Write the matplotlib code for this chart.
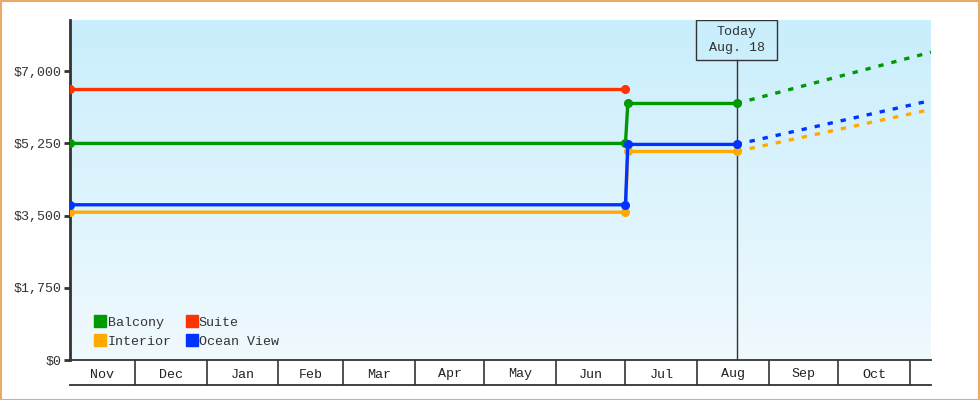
import matplotlib.pyplot as plt
import matplotlib.dates as mdates
import matplotlib.transforms as mtransforms
from matplotlib.lines import Line2D
from matplotlib.patches import Rectangle
from matplotlib.colors import LinearSegmentedColormap
import numpy as np
import datetime as dt

# price history points
dates = ['2024-11-03', '2025-07-01', '2025-07-02', '2025-08-18']
balcony = [5249, 5249, 6217, 6217]
interior = [3582, 3582, 5054, 5054]
ocean_view = [3762, 3762, 5225, 5225]
suite_dates = ['2024-11-03', '2025-07-01']
suite = [6565, 6565]

# projected prices at end of range
end_date = '2025-11-10'
balcony_proj = 7460
interior_proj = 6072
ocean_view_proj = 6290

today = '2025-08-18'
today_label = 'Today\nAug. 18'
month_starts = ['2024-12-01', '2025-01-01', '2025-02-01', '2025-03-01', '2025-04-01',
                '2025-05-01', '2025-06-01', '2025-07-01', '2025-08-01', '2025-09-01',
                '2025-10-01', '2025-11-01']
month_labels = ['Nov', 'Dec', 'Jan', 'Feb', 'Mar', 'Apr', 'May', 'Jun', 'Jul', 'Aug', 'Sep', 'Oct']

yticks = [0, 1750, 3500, 5250, 7000]

plt.rcParams['font.family'] = ['Liberation Mono', 'DejaVu Sans Mono']
dark = '#333333'
fs = 9.6

def d(s):
    return mdates.date2num(dt.datetime.strptime(s, '%Y-%m-%d'))

x = [d(s) for s in dates]
xs = [d(s) for s in suite_dates]
x0, x1 = d(dates[0]), d(end_date)
xt = d(today)

fig = plt.figure(figsize=(9.8, 4), dpi=100)
W, H = 980, 400
ax = fig.add_axes([70 / W, 1 - 360 / H, 861 / W, 340 / H])
ymax = 8240
ax.set_xlim(x0, x1)
ax.set_ylim(0, ymax)

# gradient background
grad = np.linspace(0, 1, 256).reshape(-1, 1)
cmap = LinearSegmentedColormap.from_list('bg', ['#f0f9fe', '#c9eefc'])
ax.imshow(grad, extent=[x0, x1, 0, ymax], origin='lower', aspect='auto', cmap=cmap, zorder=0)

colors = {'Balcony': '#009900', 'Suite': '#ff3300', 'Interior': '#ffaa00', 'Ocean View': '#0033ff'}
lw = 2.4
ms = 5.5

ax.plot(x, interior, color=colors['Interior'], lw=lw, marker='o', ms=ms, zorder=3)
ax.plot(x, balcony, color=colors['Balcony'], lw=lw, marker='o', ms=ms, zorder=3)
ax.plot(xs, suite, color=colors['Suite'], lw=lw, marker='o', ms=ms, zorder=3)
ax.plot(x, ocean_view, color=colors['Ocean View'], lw=lw, marker='o', ms=ms, zorder=4)

for vals, proj, name in [(balcony, balcony_proj, 'Balcony'), (interior, interior_proj, 'Interior'),
                         (ocean_view, ocean_view_proj, 'Ocean View')]:
    ax.plot([xt, x1], [vals[-1], proj], color=colors[name], lw=lw, ls=(0, (1.6, 2.4)), zorder=3)

# today marker
frac = 1 - 40 / 340
ax.plot([xt, xt], [0, frac * ymax], color=dark, lw=1, zorder=2)
trans = mtransforms.blended_transform_factory(ax.transData, ax.transAxes)
half = 40.5 / 2.315
ax.add_patch(Rectangle((xt - half, frac), 2 * half, 1 - frac, transform=trans,
                       fill=False, edgecolor=dark, lw=1, zorder=5))
ax.text(xt, (1 + frac) / 2, today_label, transform=trans, ha='center', va='center',
        fontsize=fs, color=dark, linespacing=1.55, zorder=6)

ax.set_yticks(yticks)
ax.set_yticklabels(['${:,}'.format(v) for v in yticks], fontsize=fs, color=dark)
ax.tick_params(axis='y', length=4, width=2, color=dark, pad=2)
ax.set_xticks([])
for s in ['top', 'right']:
    ax.spines[s].set_visible(False)
ax.spines['left'].set_linewidth(2)
ax.spines['left'].set_color(dark)
ax.spines['bottom'].set_visible(False)

handles = [Line2D([], [], ls='none', marker='s', ms=8.5, color=colors[n]) for n in
           ['Balcony', 'Interior', 'Suite', 'Ocean View']]
ax.legend(handles, ['Balcony', 'Interior', 'Suite', 'Ocean View'], ncol=2, loc='lower left',
          bbox_to_anchor=(0.015, 0.0), frameon=False, fontsize=fs, handlelength=0.8,
          handletextpad=0.15, columnspacing=1.1, labelspacing=0.5, labelcolor=dark)

# month boxes below the plot
ax2 = fig.add_axes([70 / W, 1 - 385 / H, 861 / W, 25 / H])
ax2.set_xlim(x0, x1)
ax2.set_ylim(0, 1)
ax2.patch.set_alpha(0)
for s in ['left', 'right']:
    ax2.spines[s].set_visible(False)
for s in ['top', 'bottom']:
    ax2.spines[s].set_color(dark)
    ax2.spines[s].set_linewidth(1.3)
ax2.set_xticks([])
ax2.set_yticks([])
edges = [x0] + [d(m) for m in month_starts]
for m in month_starts:
    ax2.axvline(d(m), color=dark, lw=1.2)
for i, lab in enumerate(month_labels):
    ax2.text((edges[i] + edges[i + 1]) / 2, 0.3, lab, ha='center', va='baseline', fontsize=fs, color='#222222')

# outer border
fig.patches.append(Rectangle((0.5 / W, 0.5 / H), 1 - 1.5 / W, 1 - 1.5 / H, transform=fig.transFigure,
                             fill=False, edgecolor='#e9a968', lw=1.5))

fig.savefig('out.png', dpi=100)
